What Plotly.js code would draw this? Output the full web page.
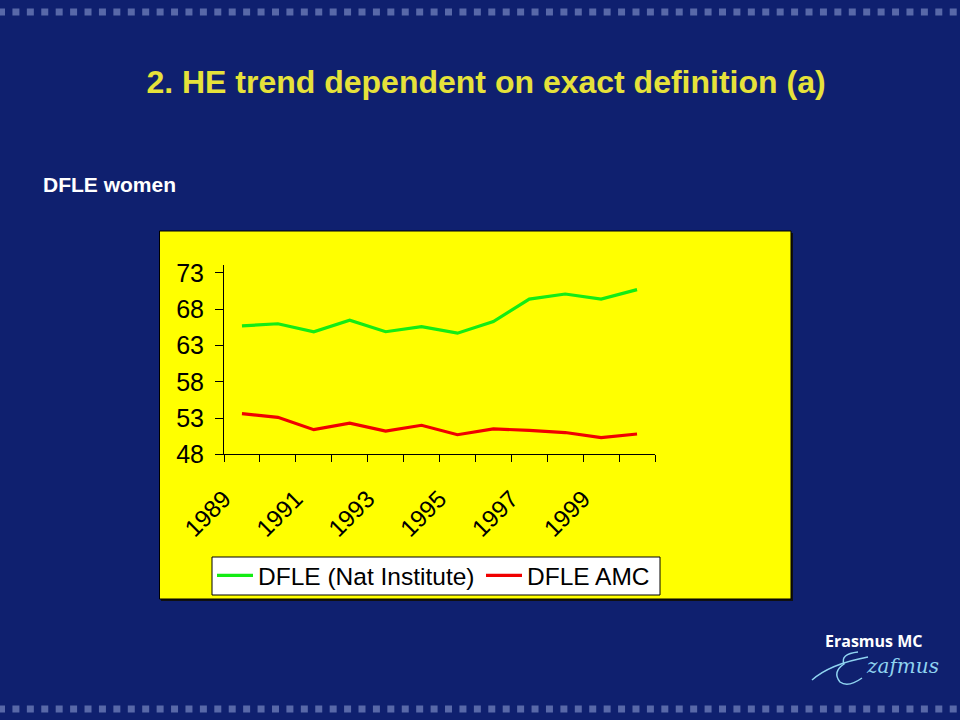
<!DOCTYPE html>
<html>
<head>
<meta charset="utf-8">
<script src="https://cdn.plot.ly/plotly-3.0.1.min.js"></script>
<style>
  html, body { margin: 0; padding: 0; background: #0f206f; }
  #chart { width: 960px; height: 720px; }
</style>
</head>
<body>
<div id="chart"></div>
<script>
// ---- data ----
const years = [1989, 1990, 1991, 1992, 1993, 1994, 1995, 1996, 1997, 1998, 1999, 2000];
const dfleNatInstitute = [65.7, 66.0, 64.9, 66.5, 64.9, 65.6, 64.7, 66.3, 69.4, 70.1, 69.4, 70.7];
const dfleAmc = [53.6, 53.1, 51.4, 52.3, 51.2, 52.0, 50.7, 51.5, 51.3, 51.0, 50.3, 50.8];
const xTickLabels = ['1989', '1991', '1993', '1995', '1997', '1999'];
const yTickValues = [48, 53, 58, 63, 68, 73];
const seriesNames = ['DFLE (Nat Institute)', 'DFLE AMC'];
const titleText = '2. HE trend dependent on exact definition (a)';
const subtitleText = 'DFLE women';

// ---- helpers (pixel -> paper) ----
const W = 960, H = 720;
const px = x => x / W;
const py = y => 1 - y / H;

const BG = '#0f206f';
const DOT = '#5868a8';

const shapes = [];
// yellow chart box
shapes.push({type: 'rect', xref: 'paper', yref: 'paper', layer: 'below',
  x0: px(161), x1: px(793), y0: py(601), y1: py(233), fillcolor: '#101010', line: {width: 0}});
shapes.push({type: 'rect', xref: 'paper', yref: 'paper', layer: 'below',
  x0: px(159.5), x1: px(791), y0: py(599), y1: py(231), fillcolor: '#ffff00',
  line: {color: '#000000', width: 1}});
// legend box
shapes.push({type: 'rect', xref: 'paper', yref: 'paper', layer: 'below',
  x0: px(212), x1: px(660), y0: py(595), y1: py(557), fillcolor: '#ffffff',
  line: {color: '#000000', width: 1}});
// decorative square rows
for (let i = 0; i <= 66; i++) {
  const x0 = -2 + i * 14.42;
  shapes.push({type: 'rect', xref: 'paper', yref: 'paper', layer: 'below',
    x0: px(x0), x1: px(x0 + 7), y0: py(15.5), y1: py(8.5), fillcolor: DOT, line: {width: 0}});
  shapes.push({type: 'rect', xref: 'paper', yref: 'paper', layer: 'below',
    x0: px(x0), x1: px(x0 + 7), y0: py(712.5), y1: py(705.5), fillcolor: DOT, line: {width: 0}});
}
// logo signature swoosh
shapes.push({type: 'path', xref: 'paper', yref: 'paper', layer: 'above',
  path: `M ${px(812)} ${py(680)} Q ${px(830)} ${py(664)} ${px(868)} ${py(657)}` ,
  line: {color: '#8fd3f0', width: 1.5}});
shapes.push({type: 'path', xref: 'paper', yref: 'paper', layer: 'above',
  path: `M ${px(858)} ${py(652)} Q ${px(840)} ${py(654)} ${px(844)} ${py(664)} Q ${px(832)} ${py(672)} ${px(840)} ${py(682)} Q ${px(848)} ${py(688)} ${px(862)} ${py(678)}`,
  line: {color: '#8fd3f0', width: 1.5}});

const traces = [
  {x: years, y: dfleNatInstitute, name: seriesNames[0], type: 'scatter', mode: 'lines',
   line: {color: '#14ec14', width: 3.2}, legend: 'legend'},
  {x: years, y: dfleAmc, name: seriesNames[1], type: 'scatter', mode: 'lines',
   line: {color: '#f00000', width: 3.2}, legend: 'legend2'}
];

const legendCommon = {
  orientation: 'h', xanchor: 'left', yanchor: 'top',
  bgcolor: 'rgba(0,0,0,0)', borderwidth: 0,
  font: {size: 24.5, color: '#000000', family: 'Liberation Sans, Arial, sans-serif'},
  itemwidth: 36
};

const layout = {
  width: W, height: H,
  margin: {l: 0, r: 0, t: 0, b: 0, pad: 0},
  paper_bgcolor: BG,
  plot_bgcolor: 'rgba(0,0,0,0)',
  font: {family: 'Liberation Sans, Arial, sans-serif', color: '#000000'},
  title: {text: '<b>' + titleText + '</b>', x: 486 / W, y: py(82), xanchor: 'center', yanchor: 'middle',
    xref: 'paper', yref: 'container',
    font: {family: 'Liberation Sans, Arial, sans-serif', size: 32, color: '#e6e23a'}},
  xaxis: {
    domain: [px(224), px(655)],
    range: [1988.5, 2000.5],
    tickmode: 'array', tickvals: xTickLabels.map(v => Number(v) - 0.5), ticktext: xTickLabels,
    ticks: '', tickangle: -45, ticklabelstandoff: 20,
    tickfont: {size: 24, color: '#000000'},
    minor: {tick0: 1988.5, dtick: 1, ticks: 'outside', ticklen: 7, tickwidth: 1, tickcolor: '#000000', showgrid: false},
    showline: true, linecolor: '#000000', linewidth: 1,
    showgrid: false, zeroline: false, fixedrange: true
  },
  yaxis: {
    domain: [py(454.3), py(265)],
    range: [48, 74.1],
    tickmode: 'array', tickvals: yTickValues,
    ticks: 'outside', ticklen: 8, tickwidth: 1, tickcolor: '#000000',
    ticklabelstandoff: 6,
    tickfont: {size: 25, color: '#000000'},
    showline: true, linecolor: '#000000', linewidth: 1,
    showgrid: false, zeroline: false, fixedrange: true
  },
  showlegend: true,
  legend: Object.assign({}, legendCommon, {x: px(212), y: py(553)}),
  legend2: Object.assign({}, legendCommon, {x: px(481), y: py(553)}),
  shapes: shapes,
  annotations: [
    {text: '<b>' + subtitleText + '</b>', xref: 'paper', yref: 'paper', x: px(41), y: py(185),
     xanchor: 'left', yanchor: 'middle', showarrow: false,
     font: {family: 'Liberation Sans, Arial, sans-serif', size: 21, color: '#ffffff'}},
    {text: '<b>Erasmus MC</b>', xref: 'paper', yref: 'paper', x: px(823), y: py(641),
     xanchor: 'left', yanchor: 'middle', showarrow: false,
     font: {family: 'Open Sans, sans-serif', size: 16, color: '#ffffff'}},
    {text: '<i>zafmus</i>', xref: 'paper', yref: 'paper', x: px(864), y: py(666),
     xanchor: 'left', yanchor: 'middle', showarrow: false,
     font: {family: 'DejaVu Serif, serif', size: 20, color: '#8fd3f0'}}
  ]
};

Plotly.newPlot('chart', traces, layout, {displayModeBar: false, staticPlot: true});
</script>
</body>
</html>
